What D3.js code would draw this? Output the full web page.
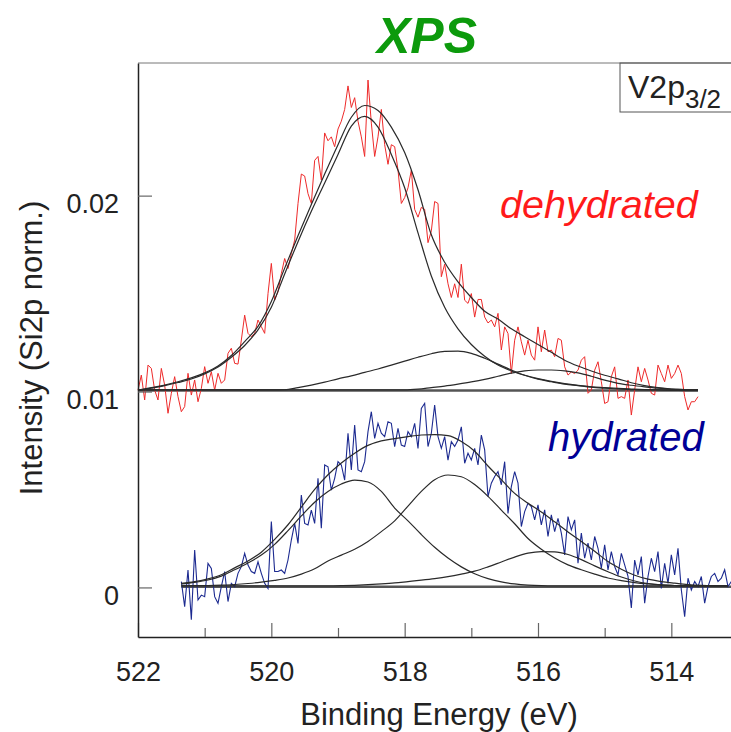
<!DOCTYPE html>
<html>
<head>
<meta charset="utf-8">
<script src="https://cdnjs.cloudflare.com/ajax/libs/d3/7.8.5/d3.min.js"></script>
<style>
    body { margin: 0; background: #fff; }
    svg text { font-family: "Liberation Sans", Arial, sans-serif; fill: #222; }
</style>
</head>
<body>
<svg id="chart" width="731" height="732"></svg>
<script>
// intensities below are in units of 1e-4 (Si2p normalised)
const UNIT = 1e-4
const dataStep = 0.05   // eV between measured points
const fitStep = 0.2     // eV between fit points

// measured spectra
const dehydratedStart = 522.0
const dehydrated = [
    100.7, 108.4, 95.7, 113.5, 111.8, 100.7, 95.7, 111.8, 103.3, 88.9,
    99.1, 107.6, 97.4, 89.7, 92.3, 109.3, 98.2, 105.9, 94.8, 101.6,
    112.7, 104.2, 110.1, 100.7, 109.3, 104.2, 105.9, 119.5, 122.1, 114.4,
    114, 126.3, 139, 129.7, 128, 129.7, 136.5, 133.1, 129.7, 150,
    165.4, 146.6, 150.9, 160.2, 167.9, 162.8, 170.4, 177.3, 196, 211,
    210, 201, 196, 218, 220, 208, 232, 228, 230, 225,
    234, 238, 244, 256, 245, 250, 238, 230, 220, 259,
    237, 220, 230, 244, 226, 216, 226, 225, 213, 196,
    199, 204, 213, 193, 189, 194, 193, 176, 182, 197,
    196, 158.6, 165, 155, 148, 155, 148, 165, 146.6, 145,
    150, 138, 147, 147, 138, 135, 136.5, 133, 139.9, 121.2,
    133, 129.6, 109.2, 126.2, 133, 125.4, 118.6, 126.2, 118.6, 116,
    133, 120.3, 131.4, 120.3, 121.2, 117.8, 127.1, 126.2, 112.6, 108.4,
    110, 109.2, 110.9, 116, 117.8, 99.1, 100.8, 110.9, 115.2, 105,
    93.9, 94.8, 107.6, 112.6, 96.5, 97.4, 96.5, 105.9, 88, 100.8,
    112.6, 105, 111.8, 105.9, 99.1, 98.2, 113.5, 109.2, 105, 113.5,
    106.7, 109.2, 113.5, 109.2, 97.4, 90.6, 94.8, 94.8, 97.4
]

const hydratedStart = 521.35
const hydrated = [
    3.0, -9.8, 8.9, -16.5, 19.1, -6.4, -3.9, -4.7, 12.3, 9.7,
    -4.7, -8.1, 0.4, 8.1, -7.2, 2.1, 0.4, 7.2, 10.6, 17.4,
    11.4, 8.1, 7.2, 13.1, 7.2, 2.1, -0.5, 33.6, 8.1, 8.1,
    8.9, 7.2, 14, 24.2, 32.7, 22.5, 47.2, 32.7, 31.9, 39.5,
    32.7, 55.7, 30.2, 62.5, 61.6, 49.7, 55.7, 64.2, 62.5, 54.8,
    78.7, 60, 82.9, 60, 59.1, 64.2, 79.5, 89.7, 76.1, 83.8,
    78.7, 77, 84.6, 83.8, 71.9, 81.2, 72.7, 71.9, 79.5, 77,
    83.8, 71, 91.4, 94, 71.9, 78.7, 93.1, 77, 71, 77,
    65, 74.4, 72, 75.2, 82, 63.4, 68.5, 65.1, 71, 62.5,
    77.8, 70.2, 46.4, 53.2, 56.6, 59.1, 52.4, 64.2, 37.8, 51.5,
    59.1, 53.2, 31.1, 38.7, 43, 41.3, 34.5, 42.1, 31.9, 39.6,
    26, 37, 28.5, 35.3, 27.7, 16.6, 36.2, 29.4, 34.5, 12.4,
    27.7, 14.9, 22.6, 14, 26, 20, 9.8, 21.7, 9, 18.3,
    10.7, 6.4, 17.4, 11.5, 5.6, -10.5, 14, 6.4, 15.8, -8,
    5.6, 14.9, 8.1, 18.3, -0.5, 12.3, 2.1, 16.6, 6.4, 20,
    -1.3, -14.9, 4.7, -1.3, 3, 0.4, 5.6, -8, 0.4, 5.6,
    7.2, 3, 4.7, 9, 0.4, 3
]

// fitted curves (envelope + components)
const dehydratedFitStart = 522.0
const dehydratedEnvelope = [
    100.7, 102, 103.3, 105, 107, 109.5, 113, 118.4, 125.5, 133.3,
    146, 163, 179.5, 195.5, 211, 226, 240, 246, 243.5, 235,
    222, 203, 180, 166, 156, 148, 141, 137, 132, 128,
    124, 120, 116, 113, 110.5, 108.3, 106.5, 104.5, 103, 102,
    101.3, 101, 100.8
]
const dehydratedPeak1 = [
    100.5, 101.7, 103, 104.6, 106.4, 109, 112.5, 117.5, 123.5, 131.5,
    143, 160, 176.5, 192, 206.5, 221, 235.5, 240.5, 235, 221,
    204, 181, 159, 143, 132, 124, 118, 113.5, 110.5, 108.3,
    106.6, 105.2, 104, 103.1, 102.4, 102, 101.6, 101.3, 101, 100.8,
    100.6, 100.5, 100.4
]
const dehydratedPeak2 = [
    100.8, 100.8, 100.8, 100.8, 100.8, 100.8, 100.8, 100.8, 100.8, 100.8,
    100.8, 100.9, 102, 103.3, 104.8, 106.5, 108, 109.8, 111.5, 113.5,
    115.5, 117.5, 119.3, 120.5, 120.6, 119.5, 117, 114, 111, 108.3,
    106.3, 105, 103.8, 103, 102.2, 101.7, 101.3, 101, 100.8, 100.8,
    100.8, 100.8, 100.8
]
const dehydratedPeak3 = [
    100.8, 100.8, 100.8, 100.8, 100.8, 100.8, 100.8, 100.8, 100.8, 100.8,
    100.8, 100.8, 100.8, 100.8, 100.8, 100.8, 100.8, 100.8, 100.8, 100.8,
    100.8, 101.2, 102, 102.8, 103.8, 104.9, 106.2, 107.8, 109.4, 110.5,
    111, 111, 110.5, 109.5, 107.8, 105.8, 104.2, 103.2, 102.4, 101.7,
    101.2, 100.9, 100.8
]

const hydratedFitStart = 521.35
const hydratedEnvelope = [
    2.1, 3, 4.4, 6.5, 10, 13.5, 18, 24.5, 32, 41,
    50, 57.5, 63.5, 68.5, 72.5, 74.8, 76, 77, 77.8, 78,
    77.5, 74.5, 69.5, 62, 55, 48, 43, 38.5, 33.5, 28.3,
    23.5, 18.5, 13.2, 9.3, 6.2, 4.2, 3, 2.2, 1.5, 1.1,
    0.9, 0.8
]
const hydratedPeak1 = [
    1.8, 2.6, 3.8, 5.8, 9, 12.5, 16.5, 22, 29, 36.5,
    43.5, 49, 52.8, 54.8, 53.8, 49, 40.5, 34, 27, 20.5,
    15, 10.5, 7, 4.5, 2.8, 1.8, 1.2, 0.9, 0.8, 0.8,
    0.8, 0.8, 0.8, 0.8, 0.8, 0.8, 0.8, 0.8, 0.8, 0.8,
    0.8, 0.8
]
const hydratedPeak2 = [
    0.8, 0.9, 1, 1.2, 1.5, 2, 2.7, 3.6, 4.8, 6.8,
    9.5, 13.5, 16.5, 19.5, 23.5, 28.5, 34, 41.5, 49, 55,
    57.4, 56.5, 52.5, 46.5, 39.5, 32.5, 25, 19.5, 15, 11.5,
    9, 6.8, 4.8, 3.5, 2.5, 1.8, 1.3, 1, 0.8, 0.8,
    0.8, 0.8
]
const hydratedPeak3 = [
    0.8, 0.8, 0.8, 0.8, 0.8, 0.8, 0.8, 0.8, 0.8, 0.8,
    0.8, 0.8, 0.9, 1.1, 1.4, 1.8, 2.3, 3, 3.7, 4.5,
    5.5, 6.8, 8.3, 10.5, 13, 15.5, 17.5, 18.3, 18.2, 16.8,
    14.2, 11, 8, 5.3, 3.3, 2, 1.3, 1, 0.8, 0.8,
    0.8, 0.8
]

// flat backgrounds: [level, from eV, to eV]
const dehydratedBackground = [100.5, 522.0, 513.6]
const hydratedBackground = [0.4, 521.35, 513.0]

const xTicks = [522, 520, 518, 516, 514]
const xMinorTicks = [521, 519, 517, 515]
const yTicks = [0, 0.01, 0.02]

// ---------------------------------------------------------------

const svg = d3.select("#chart")
const plotLeft = 138, plotRight = 738, plotTop = 63, plotBottom = 637

const x = d3.scaleLinear().domain([522, 513]).range([plotLeft, plotRight])
const y = d3.scaleLinear().domain([-0.00253, 0.02677]).range([plotBottom, plotTop])

function toPoints(values, start, step) {
    return values.map((v, i) => ({ e: start - i * step, v: v * UNIT }))
}

const line = d3.line()
    .x(d => x(d.e))
    .y(d => y(d.v))

const smooth = d3.line()
    .x(d => x(d.e))
    .y(d => y(d.v))
    .curve(d3.curveMonotoneX)

// title
svg.append("text")
    .attr("x", 427).attr("y", 53)
    .attr("text-anchor", "middle")
    .style("font-size", "50px")
    .style("font-weight", "bold")
    .style("font-style", "italic")
    .style("fill", "#0c9a0c")
    .text("XPS")

// frame top
svg.append("line")
    .attr("x1", plotLeft).attr("x2", plotRight)
    .attr("y1", plotTop).attr("y2", plotTop)
    .attr("stroke", "#777").attr("stroke-width", 1)

// backgrounds
;[dehydratedBackground, hydratedBackground].forEach(b => {
    svg.append("path")
        .datum([{ e: b[1], v: b[0] * UNIT }, { e: b[2], v: b[0] * UNIT }])
        .attr("d", line)
        .attr("fill", "none")
        .attr("stroke", "#555")
        .attr("stroke-width", 2.5)
})

// measured spectra
svg.append("path")
    .datum(toPoints(dehydrated, dehydratedStart, dataStep))
    .attr("d", line)
    .attr("fill", "none")
    .attr("stroke", "#ee2a2a")
    .attr("stroke-width", 1)

svg.append("path")
    .datum(toPoints(hydrated, hydratedStart, dataStep))
    .attr("d", line)
    .attr("fill", "none")
    .attr("stroke", "#1c2a90")
    .attr("stroke-width", 1.1)

// fits
const fits = [
    [dehydratedEnvelope, dehydratedFitStart],
    [dehydratedPeak1, dehydratedFitStart],
    [dehydratedPeak2, dehydratedFitStart],
    [dehydratedPeak3, dehydratedFitStart],
    [hydratedEnvelope, hydratedFitStart],
    [hydratedPeak1, hydratedFitStart],
    [hydratedPeak2, hydratedFitStart],
    [hydratedPeak3, hydratedFitStart]
]
fits.forEach(f => {
    svg.append("path")
        .datum(toPoints(f[0], f[1], fitStep))
        .attr("d", smooth)
        .attr("fill", "none")
        .attr("stroke", "#2a2a2a")
        .attr("stroke-width", 1.2)
})

// axes
svg.append("g")
    .attr("transform", "translate(0," + plotBottom + ")")
    .call(d3.axisBottom(x).tickValues(xTicks).tickSize(-14).tickSizeOuter(0).tickPadding(25)
        .tickFormat(d3.format("d")))
svg.append("g")
    .attr("transform", "translate(0," + plotBottom + ")")
    .call(d3.axisBottom(x).tickValues(xMinorTicks).tickSize(-9).tickSizeOuter(0).tickFormat(""))
    .call(g => g.select(".domain").remove())

const yAxis = svg.append("g")
    .attr("transform", "translate(" + plotLeft + ",0)")
    .call(d3.axisLeft(y).tickValues(yTicks).tickSize(-14).tickSizeOuter(0).tickPadding(19)
        .tickFormat(d => d === 0 ? "0" : d3.format(".2f")(d)))
yAxis.selectAll("text").attr("dy", "0.63em")

svg.selectAll(".domain").attr("stroke", "#222").attr("stroke-width", 1.5)
svg.selectAll(".tick line").attr("stroke", "#666").attr("stroke-width", 1.2)
svg.selectAll(".tick text")
    .style("font-size", "27px")
    .style("font-family", "'Liberation Sans', Arial, sans-serif")
    .attr("fill", "#222")

// axis titles
svg.append("text")
    .attr("x", 439).attr("y", 725)
    .attr("text-anchor", "middle")
    .style("font-size", "31px")
    .text("Binding Energy (eV)")

svg.append("text")
    .attr("transform", "translate(42,348) rotate(-90)")
    .attr("text-anchor", "middle")
    .style("font-size", "31px")
    .text("Intensity (Si2p norm.)")

// sample labels
svg.append("text")
    .attr("x", 500).attr("y", 218)
    .style("font-size", "39.5px")
    .style("font-style", "italic")
    .style("fill", "#ff1a1a")
    .text("dehydrated")

svg.append("text")
    .attr("x", 548).attr("y", 451)
    .style("font-size", "40px")
    .style("font-style", "italic")
    .style("fill", "#000096")
    .text("hydrated")

// edge label box
svg.append("rect")
    .attr("x", 620).attr("y", plotTop)
    .attr("width", 200).attr("height", 49)
    .attr("fill", "none")
    .attr("stroke", "#555").attr("stroke-width", 1)

const edge = svg.append("text")
    .attr("x", 628).attr("y", 98)
    .style("font-size", "32px")
edge.append("tspan").text("V2p")
edge.append("tspan")
    .attr("dy", 10)
    .style("font-size", "26px")
    .text("3/2")
</script>
</body>
</html>
